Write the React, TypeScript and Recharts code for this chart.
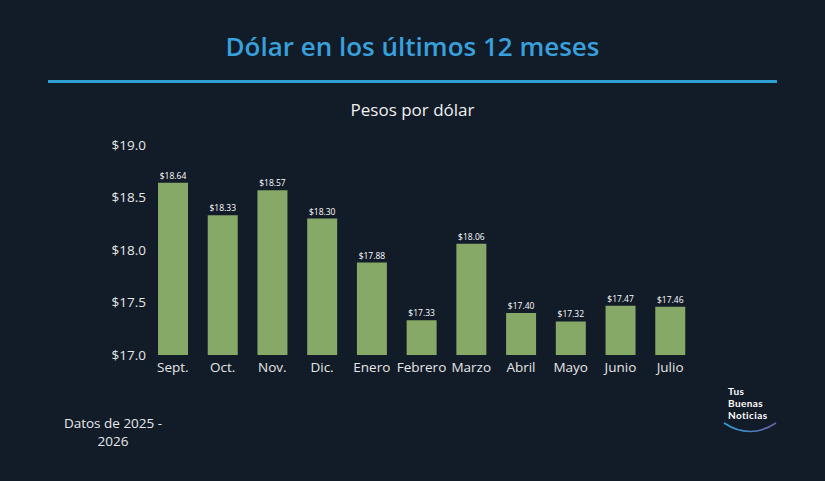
import React from 'react';
import { BarChart, Bar, XAxis, YAxis, LabelList } from 'recharts';

const months = ['Sept.', 'Oct.', 'Nov.', 'Dic.', 'Enero', 'Febrero', 'Marzo', 'Abril', 'Mayo', 'Junio', 'Julio'];
const rates = [18.64, 18.33, 18.57, 18.3, 17.88, 17.33, 18.06, 17.4, 17.32, 17.47, 17.46];
const yTicks = [17, 17.5, 18, 18.5, 19];

const data = months.map((m, i) => ({ month: m, rate: rates[i] }));

const BG = '#121b28';
const FONT = '"Open Sans", "Noto Sans", sans-serif';

const App: React.FC = () => {
  return (
    <div
      style={{
        position: 'fixed',
        top: 0,
        left: 0,
        width: 825,
        height: 481,
        background: BG,
        fontFamily: FONT,
        overflow: 'hidden',
      }}
    >
      <div
        style={{
          position: 'absolute',
          top: 29,
          left: 0,
          width: 825,
          textAlign: 'center',
          color: '#38a0db',
          fontSize: 26,
          fontWeight: 600,
          lineHeight: '34px',
          fontFamily: FONT,
        }}
      >
        Dólar en los últimos 12 meses
      </div>
      <div style={{ position: 'absolute', top: 80, left: 48, width: 729, height: 3, background: '#2d9fd3' }} />
      <div
        style={{
          position: 'absolute',
          top: 98,
          left: 0,
          width: 825,
          textAlign: 'center',
          color: '#f0f0f0',
          fontSize: 17,
          lineHeight: '24px',
        }}
      >
        Pesos por dólar
      </div>

      <div style={{ position: 'absolute', top: 0, left: 0 }}>
        <BarChart width={825} height={481} data={data} margin={{ top: 145, right: 130, bottom: 96, left: 88 }}>
          <XAxis
            dataKey="month"
            axisLine={false}
            tickLine={false}
            tickSize={0}
            tickMargin={7}
            height={30}
            interval={0}
            tick={{ fill: '#e6e6e6', fontSize: 13.5, fontFamily: FONT }}
          />
          <YAxis
            width={60}
            domain={[17, 19]}
            ticks={yTicks}
            allowDataOverflow
            axisLine={false}
            tickLine={false}
            tickSize={0}
            tickMargin={2}
            tickFormatter={(v: number) => `$${v.toFixed(1)}`}
            tick={{ fill: '#e6e6e6', fontSize: 13.5, fontFamily: FONT }}
          />
          <Bar dataKey="rate" fill="#86a967" barSize={30} isAnimationActive={false}>
            <LabelList
              dataKey="rate"
              position="top"
              offset={4}
              formatter={(v: number) => `$${v.toFixed(2)}`}
              style={{ fill: '#ffffff', fontSize: 8.5, fontFamily: FONT }}
            />
          </Bar>
        </BarChart>
      </div>

      <div
        style={{
          position: 'absolute',
          top: 414,
          left: 44,
          width: 138,
          textAlign: 'center',
          color: '#e8e8e8',
          fontSize: 13.5,
          lineHeight: '18px',
        }}
      >
        Datos de 2025 -<br />2026
      </div>

      <div
        style={{
          position: 'absolute',
          top: 385,
          left: 728,
          color: '#ffffff',
          fontSize: 10,
          fontWeight: 700,
          lineHeight: '12px',
          letterSpacing: 0.4,
          fontFamily: '"Lato", sans-serif',
        }}
      >
        <div style={{ height: 12 }}>Tus</div>
        <div style={{ height: 12 }}>Buenas</div>
        <div style={{ height: 12 }}>Noticias</div>
      </div>
      <svg style={{ position: 'absolute', top: 420, left: 720 }} width={60} height={16}>
        <defs>
          <linearGradient id="logoArc" x1="0" x2="1" y1="0" y2="0">
            <stop offset="0%" stopColor="#2aa3d6" />
            <stop offset="100%" stopColor="#6a5fa8" />
          </linearGradient>
        </defs>
        <path d="M4 3 Q30 20 56 3" stroke="url(#logoArc)" strokeWidth={1.6} fill="none" />
      </svg>
    </div>
  );
};

export default App;
